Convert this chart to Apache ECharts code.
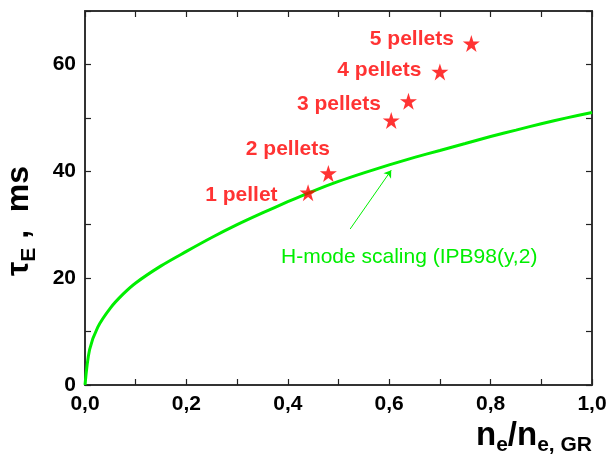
<!DOCTYPE html>
<html>
<head>
<meta charset="utf-8">
<script src="https://cdn.jsdelivr.net/npm/echarts@6/dist/echarts.min.js"></script>
<style>html,body{margin:0;padding:0;background:#fff}#main{width:610px;height:461px}</style>
</head>
<body>
<div id="main"></div>
<script>
// H-mode scaling curve
var curveX = [0, 0.009, 0.025, 0.05, 0.075, 0.1, 0.15, 0.2, 0.25, 0.3, 0.35, 0.4, 0.45, 0.5,
	0.55, 0.6, 0.65, 0.7, 0.75, 0.8, 0.85, 0.9, 0.95, 1.0];
var curveY = [0, 6.6, 10.8, 14.4, 17.0, 19.1, 22.3, 25.0, 27.6, 30.0, 32.2, 34.3, 36.3, 38.1,
	39.7, 41.2, 42.6, 43.9, 45.2, 46.5, 47.7, 48.9, 50.0, 51.0];
// pellet points
var pelletX = [0.44, 0.480, 0.604, 0.638, 0.700, 0.762];
var pelletY = [36.0, 39.6, 49.5, 53.1, 58.6, 63.9];
var pelletNames = ['1 pellet', '2 pellets', '', '3 pellets', '4 pellets', '5 pellets'];
var yTicks = [0, 20, 40, 60];

var chart = echarts.init(document.getElementById('main'));

var labelOffsets = [[-17, 3], [15, -24], [0, 0], [-14, 3], [-5, -2], [-4, -4]];
var pellets = pelletX.map(function (x, i) {
	return {
		value: [x, pelletY[i]],
		label: { show: pelletNames[i] !== '', formatter: pelletNames[i], offset: labelOffsets[i] }
	};
});

var curve = curveX.map(function (x, i) { return [x, curveY[i]]; });

var axisCommon = {
	axisLine: { show: true, onZero: false, lineStyle: { color: '#333', width: 2 } },
	axisTick: { show: true, inside: true, length: 6, lineStyle: { color: '#222', width: 1.2 } },
	minorTick: { show: true, splitNumber: 2, length: 6, lineStyle: { color: '#222', width: 1.2 } },
	splitLine: { show: false }
};

chart.setOption({
	animation: false,
	grid: { left: 85, right: 18, top: 11, bottom: 76, outerBoundsMode: 'none', containLabel: false },
	xAxis: [
		Object.assign({
			type: 'value', min: 0, max: 1, interval: 0.2,
			axisLabel: {
				fontFamily: 'Liberation Sans', fontWeight: 'bold', fontSize: 21, color: '#000', margin: 9,
				formatter: function (v) { return v.toFixed(1).replace('.', ','); }
			},
			name: '{b|n}{s|e}{b|/n}{s|e, GR}',
			nameLocation: 'end',
			nameGap: 0,
			nameTextStyle: {
				align: 'right', verticalAlign: 'top', padding: [30, 0, 0, 0],
				rich: {
					b: { fontFamily: 'Liberation Sans', fontWeight: 'bold', fontSize: 33, color: '#000' },
					s: { fontFamily: 'Liberation Sans', fontWeight: 'bold', fontSize: 21, color: '#000', padding: [20, 0, 0, 0] }
				}
			}
		}, axisCommon),
		Object.assign({
			type: 'value', min: 0, max: 1, interval: 0.2, position: 'top',
			axisLabel: { show: false }
		}, axisCommon)
	],
	yAxis: [
		Object.assign({
			type: 'value', min: 0, max: 70, interval: 20,
			axisLabel: {
				fontFamily: 'Liberation Sans', fontWeight: 'bold', fontSize: 21, color: '#000', margin: 9,
				customValues: yTicks
			},
			name: '{b|τ}{s|E}{b| ,  ms}',
			nameLocation: 'middle',
			nameGap: 45,
			nameRotate: 90,
			nameTextStyle: {
				padding: [0, 46, 0, 0],
				rich: {
					b: { fontFamily: 'Liberation Sans', fontWeight: 'bold', fontSize: 32, color: '#000' },
					s: { fontFamily: 'Liberation Sans', fontWeight: 'bold', fontSize: 21, color: '#000', padding: [20, 0, 0, 0] }
				}
			}
		}, axisCommon),
		Object.assign({
			type: 'value', min: 0, max: 70, interval: 20, position: 'right',
			axisLabel: { show: false }
		}, axisCommon)
	],
	series: [
		{
			type: 'line',
			data: curve,
			smooth: 0.3,
			showSymbol: false,
			lineStyle: { color: '#00ee00', width: 3 },
			markLine: {
				silent: true,
				symbol: ['none', 'arrow'],
				symbolSize: 7,
				lineStyle: { color: '#00ee00', width: 1, type: 'solid' },
				label: { show: false },
				data: [[{ coord: [0.523, 29.2] }, { coord: [0.604, 40.2] }]]
			}
		},
		{
			type: 'scatter',
			data: pellets,
			symbol: 'path://M50,0 L61.8,35.5 L100,35.5 L69.1,57.6 L80.9,95 L50,72.4 L19.1,95 L30.9,57.6 L0,35.5 L38.2,35.5 Z',
			symbolSize: 17,
			itemStyle: { color: '#ff0000' },
			label: {
				position: 'left', distance: 5,
				fontFamily: 'Liberation Sans', fontWeight: 'bold', fontSize: 21, color: '#ff0000'
			},
			z: 5
		}
	],
	graphic: [{
		type: 'text',
		left: 281, top: 247,
		style: {
			text: 'H-mode scaling (IPB98(y,2)',
			fontFamily: 'Liberation Sans', fontSize: 21, fill: '#00ee00'
		}
	}]
});
</script>
</body>
</html>
